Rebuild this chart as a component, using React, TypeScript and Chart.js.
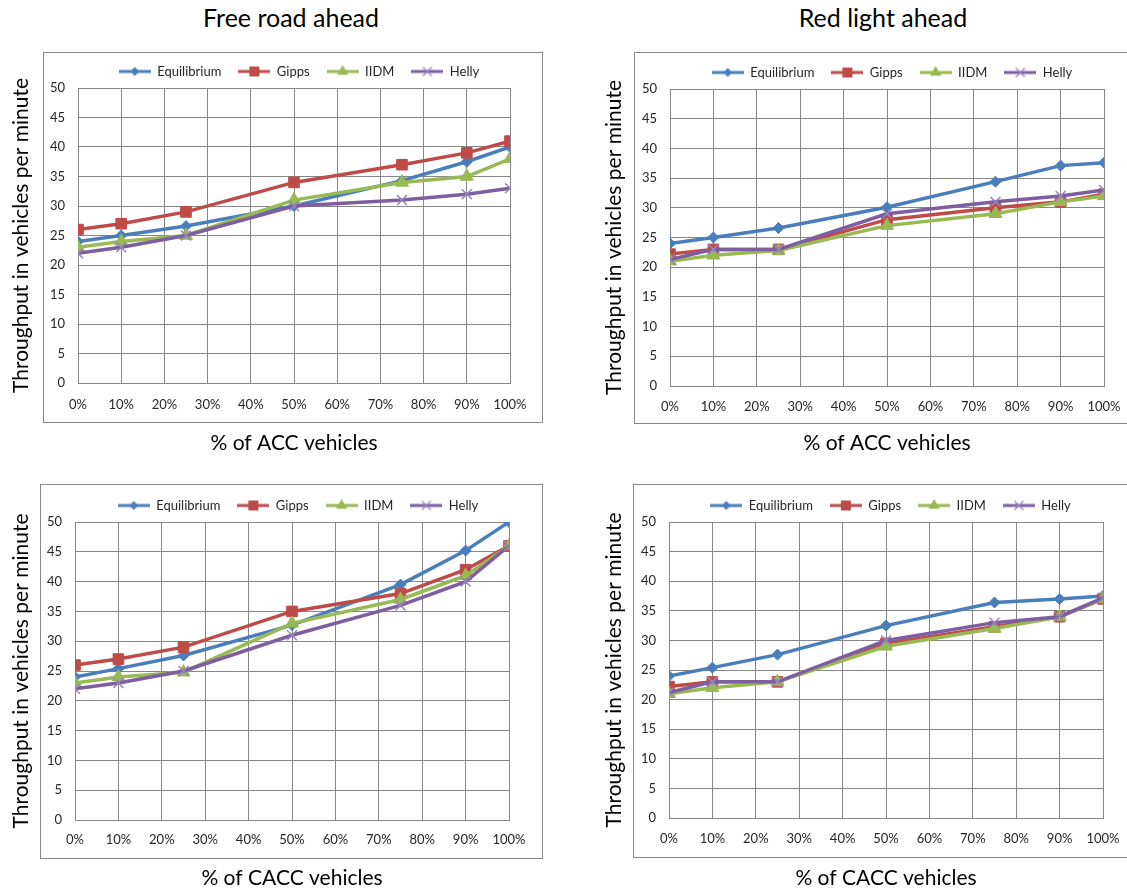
import React, { useEffect, useRef } from 'react';
import { Chart, registerables } from 'chart.js';

Chart.register(...registerables);

// ---------------- data ----------------
const X_PERCENT = [0, 10, 25, 50, 75, 90, 100];
const SERIES_NAMES = ['Equilibrium', 'Gipps', 'IIDM', 'Helly'];

const FREE_ACC_EQUILIBRIUM = [24, 25, 26.6, 30, 34.3, 37.5, 40];
const FREE_ACC_GIPPS = [26, 27, 29, 34, 37, 39, 41];
const FREE_ACC_IIDM = [23, 24, 25, 31, 34, 35, 38];
const FREE_ACC_HELLY = [22, 23, 25, 30, 31, 32, 33];

const RED_ACC_EQUILIBRIUM = [24, 25, 26.6, 30.1, 34.4, 37.1, 37.6];
const RED_ACC_GIPPS = [22.2, 23, 23, 28, 30, 31, 32.3];
const RED_ACC_IIDM = [21, 22, 22.8, 27, 29, 31, 32];
const RED_ACC_HELLY = [21.3, 23, 23, 29, 31, 32, 33];

const FREE_CACC_EQUILIBRIUM = [24, 25.4, 27.6, 32.7, 39.5, 45.2, 50];
const FREE_CACC_GIPPS = [26, 27, 29, 35, 38, 42, 46];
const FREE_CACC_IIDM = [23, 24, 24.8, 33, 37, 41, 46];
const FREE_CACC_HELLY = [22, 23, 25, 31, 36, 40, 46];

const RED_CACC_EQUILIBRIUM = [24, 25.4, 27.6, 32.5, 36.4, 37, 37.5];
const RED_CACC_GIPPS = [22.2, 23, 23, 29.5, 32.3, 34, 37];
const RED_CACC_IIDM = [21, 22, 23, 29, 32, 34, 37];
const RED_CACC_HELLY = [21.2, 23, 23, 30, 33, 34, 37.2];

const Y_AXIS_TITLE = 'Throughput in vehicles per minute';
const X_AXIS_TITLE_ACC = '% of ACC vehicles';
const X_AXIS_TITLE_CACC = '% of CACC vehicles';
const PANEL_TITLES = ['Free road ahead', 'Red light ahead'];

// ---------------- styles ----------------
const FONT = 'Lato, Carlito, "Liberation Sans", sans-serif';
const LINE_COLORS = ['#4A7EBB', '#BE4B48', '#98B954', '#7D5FA0'];
const MARKER_COLORS = ['#4A7EBB', '#BE4B48', '#98B954', '#9A84BE'];
const MARKER_STYLES = ['rectRot', 'rect', 'triangle', 'crossRot'];
const MARKER_RADII = [5.5, 7.5, 7.5, 7];
const GRID_COLOR = '#878787';
const TEXT_COLOR = '#262626';

type Rect = { left: number; top: number; right: number; bottom: number };
type PanelSpec = {
  xTitle: string;
  series: number[][];
  canvas: { left: number; top: number; width: number; height: number };
  plot: Rect;
  box: Rect;
  xLabelY: number;
  xTitleY: number;
  yTitleX: number;
};

const PANELS: PanelSpec[] = [
  {
    xTitle: X_AXIS_TITLE_ACC,
    series: [FREE_ACC_EQUILIBRIUM, FREE_ACC_GIPPS, FREE_ACC_IIDM, FREE_ACC_HELLY],
    canvas: { left: 0, top: 40, width: 598, height: 420 },
    plot: { left: 78, top: 88, right: 510, bottom: 383 },
    box: { left: 43, top: 52, right: 542, bottom: 422 },
    xLabelY: 405, xTitleY: 443, yTitleX: 21,
  },
  {
    xTitle: X_AXIS_TITLE_ACC,
    series: [RED_ACC_EQUILIBRIUM, RED_ACC_GIPPS, RED_ACC_IIDM, RED_ACC_HELLY],
    canvas: { left: 590, top: 40, width: 604, height: 420 },
    plot: { left: 670, top: 89, right: 1104, bottom: 386 },
    box: { left: 634, top: 52, right: 1150, bottom: 423 },
    xLabelY: 407, xTitleY: 443, yTitleX: 614,
  },
  {
    xTitle: X_AXIS_TITLE_CACC,
    series: [FREE_CACC_EQUILIBRIUM, FREE_CACC_GIPPS, FREE_CACC_IIDM, FREE_CACC_HELLY],
    canvas: { left: 0, top: 470, width: 596, height: 423 },
    plot: { left: 75, top: 522, right: 509, bottom: 820 },
    box: { left: 40, top: 484, right: 542, bottom: 858 },
    xLabelY: 840, xTitleY: 878, yTitleX: 21,
  },
  {
    xTitle: X_AXIS_TITLE_CACC,
    series: [RED_CACC_EQUILIBRIUM, RED_CACC_GIPPS, RED_CACC_IIDM, RED_CACC_HELLY],
    canvas: { left: 590, top: 470, width: 601, height: 423 },
    plot: { left: 669, top: 522, right: 1103, bottom: 818 },
    box: { left: 633, top: 484, right: 1150, bottom: 857 },
    xLabelY: 839, xTitleY: 878, yTitleX: 614,
  },
];

const TITLE_POSITIONS = [
  { x: 291, y: 17 },
  { x: 883, y: 17 },
];

const TICK_FONT_SIZE = 13;
const LEGEND_FONT_SIZE = 13;
const AXIS_TITLE_SIZE = 21;
const LEGEND_PADDING = 17;

function makeLegendIcon(i: number): HTMLCanvasElement {
  const c = document.createElement('canvas');
  c.width = 32;
  c.height = 16;
  const ctx = c.getContext('2d') as CanvasRenderingContext2D;
  const cx = 16;
  const cy = 8;
  ctx.strokeStyle = LINE_COLORS[i];
  ctx.lineWidth = 3;
  ctx.beginPath();
  ctx.moveTo(0, cy);
  ctx.lineTo(32, cy);
  ctx.stroke();
  ctx.fillStyle = MARKER_COLORS[i];
  ctx.strokeStyle = MARKER_COLORS[i];
  ctx.lineWidth = 1;
  const style = MARKER_STYLES[i];
  ctx.beginPath();
  if (style === 'rectRot') {
    const r = 4.5;
    ctx.moveTo(cx, cy - r);
    ctx.lineTo(cx + r, cy);
    ctx.lineTo(cx, cy + r);
    ctx.lineTo(cx - r, cy);
    ctx.closePath();
    ctx.fill();
  } else if (style === 'rect') {
    const s = 5;
    ctx.rect(cx - s, cy - s, 2 * s, 2 * s);
    ctx.fill();
  } else if (style === 'triangle') {
    const r = 6.5;
    ctx.moveTo(cx, cy - r);
    ctx.lineTo(cx + r * 0.866, cy + r * 0.5);
    ctx.lineTo(cx - r * 0.866, cy + r * 0.5);
    ctx.closePath();
    ctx.fill();
  } else {
    const d = 4.5;
    ctx.lineWidth = 1.3;
    ctx.moveTo(cx - d, cy - d);
    ctx.lineTo(cx + d, cy + d);
    ctx.moveTo(cx + d, cy - d);
    ctx.lineTo(cx - d, cy + d);
    ctx.stroke();
  }
  return c;
}

function PanelChart({ spec }: { spec: PanelSpec }) {
  const ref = useRef<HTMLCanvasElement | null>(null);

  useEffect(() => {
    const canvas = ref.current;
    if (!canvas) return;
    const c = spec.canvas;
    const yAxisWidth = spec.plot.left - c.left;
    const rightWidth = c.left + c.width - spec.plot.right;
    const xAxisHeight = c.top + c.height - spec.plot.bottom;
    const topPad = spec.plot.top - c.top - (LEGEND_FONT_SIZE + LEGEND_PADDING + 10);
    const tickLine = TICK_FONT_SIZE * 1.2;
    const titleLine = AXIS_TITLE_SIZE * 1.2;
    const xTickPad = spec.xLabelY - spec.plot.bottom - tickLine / 2;
    const xTitlePadBottom = c.top + c.height - spec.xTitleY - titleLine / 2;
    const yTitlePadTop = spec.yTitleX - c.left - titleLine / 2;
    const box = {
      left: spec.box.left - c.left,
      top: spec.box.top - c.top,
      right: spec.box.right - c.left,
      bottom: spec.box.bottom - c.top,
    };
    const icons = SERIES_NAMES.map((_, i) => makeLegendIcon(i));

    const datasets = SERIES_NAMES.map((name, i) => ({
      label: name,
      data: X_PERCENT.map((x, k) => ({ x, y: spec.series[i][k] })),
      borderColor: LINE_COLORS[i],
      backgroundColor: MARKER_COLORS[i],
      borderWidth: 3.5,
      tension: 0,
      pointStyle: MARKER_STYLES[i] as any,
      pointRadius: MARKER_RADII[i],
      pointBackgroundColor: MARKER_COLORS[i],
      pointBorderColor: MARKER_COLORS[i],
      pointBorderWidth: i === 3 ? 1.5 : 1,
      order: SERIES_NAMES.length - i,
      yAxisID: 'y',
      xAxisID: 'x',
    }));

    const framePlugin = {
      id: 'frameBox',
      beforeDraw(chart: any) {
        const ctx = chart.ctx;
        ctx.save();
        ctx.strokeStyle = GRID_COLOR;
        ctx.lineWidth = 1;
        ctx.strokeRect(
          Math.round(box.left) + 0.5,
          Math.round(box.top) + 0.5,
          Math.round(box.right - box.left),
          Math.round(box.bottom - box.top)
        );
        ctx.restore();
      },
    };

    const chart = new Chart(canvas, {
      type: 'line',
      data: { datasets: datasets as any },
      options: {
        responsive: false,
        animation: false,
        events: [],
        layout: { padding: { top: topPad, left: 0, right: 0, bottom: 0 } },
        plugins: {
          title: { display: false },
          tooltip: { enabled: false },
          legend: {
            display: true,
            position: 'top',
            labels: {
              usePointStyle: true,
              pointStyleWidth: 32,
              padding: LEGEND_PADDING,
              color: TEXT_COLOR,
              font: { family: FONT, size: LEGEND_FONT_SIZE },
              generateLabels: () =>
                SERIES_NAMES.map((name, i) => ({
                  text: name,
                  pointStyle: icons[i] as any,
                  fillStyle: MARKER_COLORS[i],
                  strokeStyle: 'rgba(0,0,0,0)',
                  lineWidth: 0,
                  hidden: false,
                  datasetIndex: i,
                  fontColor: TEXT_COLOR,
                })),
            },
          },
        },
        scales: {
          x: {
            type: 'linear',
            position: 'bottom',
            min: 0,
            max: 100,
            ticks: {
              stepSize: 10,
              autoSkip: false,
              maxRotation: 0,
              padding: xTickPad,
              color: TEXT_COLOR,
              font: { family: FONT, size: TICK_FONT_SIZE },
              callback: (v: any) => `${v}%`,
            },
            grid: { color: GRID_COLOR, lineWidth: 1, drawTicks: false },
            border: { color: GRID_COLOR, width: 1 },
            title: {
              display: true,
              text: spec.xTitle,
              color: '#000',
              font: { family: FONT, size: AXIS_TITLE_SIZE },
              padding: { top: 0, bottom: xTitlePadBottom },
            },
            afterFit: (s: any) => {
              s.height = xAxisHeight;
            },
          },
          y: {
            type: 'linear',
            position: 'left',
            min: 0,
            max: 50,
            ticks: {
              stepSize: 5,
              padding: 13,
              color: TEXT_COLOR,
              font: { family: FONT, size: TICK_FONT_SIZE },
            },
            grid: { color: GRID_COLOR, lineWidth: 1, drawTicks: false },
            border: { color: GRID_COLOR, width: 1 },
            title: {
              display: true,
              text: Y_AXIS_TITLE,
              color: '#000',
              font: { family: FONT, size: AXIS_TITLE_SIZE },
              padding: { top: yTitlePadTop, bottom: 0 },
            },
            afterFit: (s: any) => {
              s.width = yAxisWidth;
            },
          },
          spacer: {
            type: 'linear',
            position: 'right',
            display: true,
            grid: { display: false },
            border: { display: false },
            ticks: { display: false },
            afterFit: (s: any) => {
              s.width = rightWidth;
            },
          },
        },
      } as any,
      plugins: [framePlugin],
    });
    return () => chart.destroy();
  }, [spec]);

  return (
    <canvas
      ref={ref}
      width={spec.canvas.width}
      height={spec.canvas.height}
      style={{
        position: 'absolute',
        left: spec.canvas.left,
        top: spec.canvas.top,
        width: spec.canvas.width,
        height: spec.canvas.height,
      }}
    />
  );
}

export default function App() {
  return (
    <div
      style={{
        position: 'absolute',
        left: 0,
        top: 0,
        width: 1127,
        height: 893,
        overflow: 'hidden',
        background: '#fff',
      }}
    >
      {PANELS.map((p, i) => (
        <PanelChart key={i} spec={p} />
      ))}
      {PANEL_TITLES.map((t, i) => (
        <div
          key={t}
          style={{
            position: 'absolute',
            left: TITLE_POSITIONS[i].x,
            top: TITLE_POSITIONS[i].y - 15,
            transform: 'translateX(-50%)',
            fontFamily: FONT,
            fontSize: 25,
            lineHeight: '30px',
            color: '#000',
            whiteSpace: 'nowrap',
          }}
        >
          {t}
        </div>
      ))}
    </div>
  );
}
